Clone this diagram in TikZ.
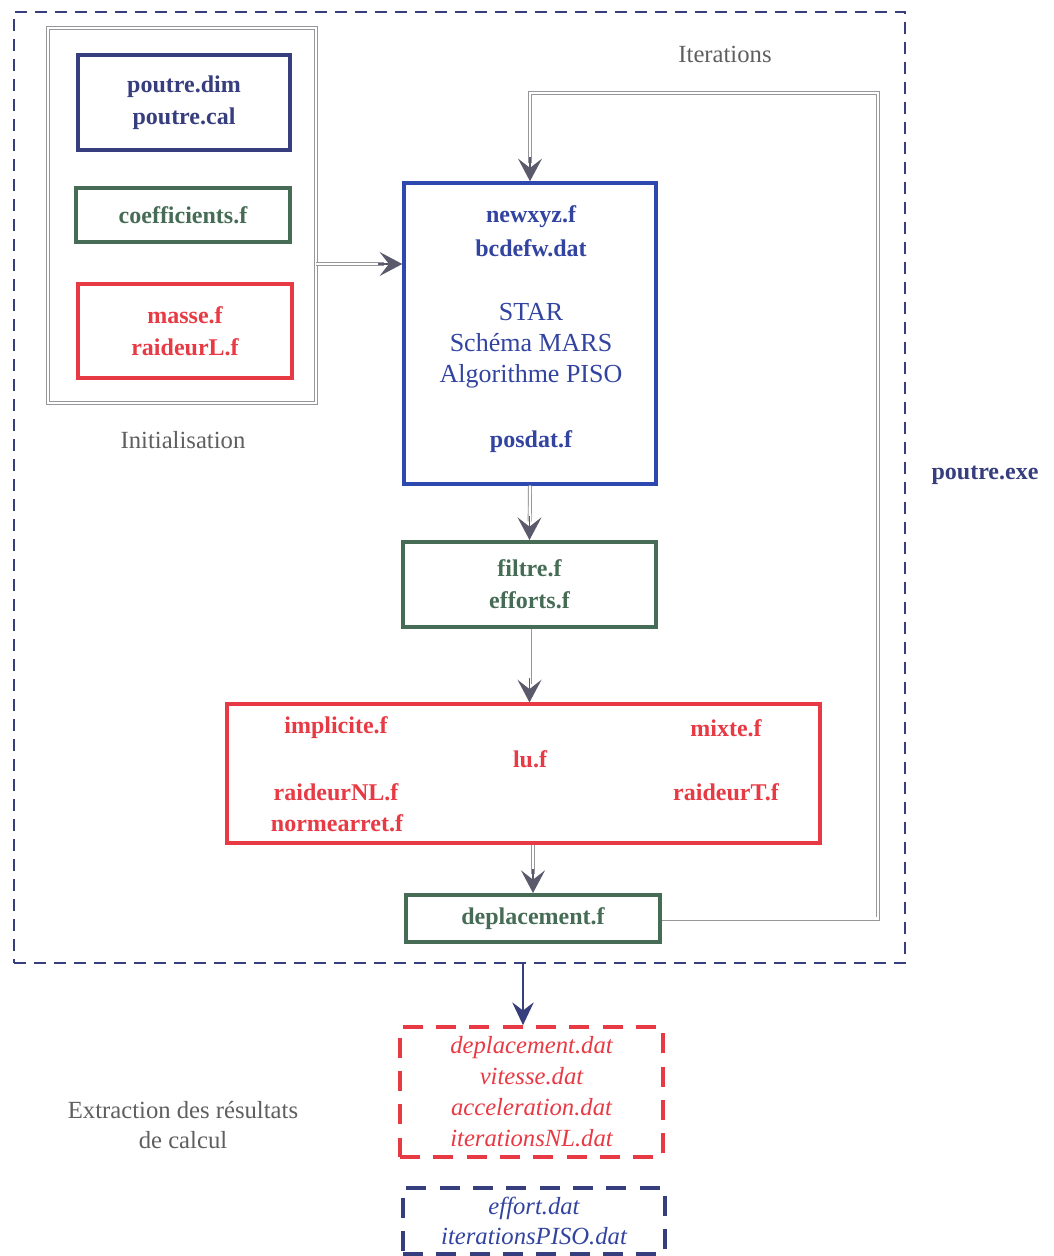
\documentclass[tikz,border=0pt]{standalone}
\usepackage{fontspec}
\setmainfont{Liberation Serif}
\usetikzlibrary{arrows.meta,calc}
\definecolor{navyc}{RGB}{55,62,125}
\definecolor{bluec}{RGB}{45,72,175}
\definecolor{bluetx}{RGB}{50,68,160}
\definecolor{greenc}{RGB}{70,108,85}
\definecolor{redc}{RGB}{232,58,68}
\definecolor{graytx}{RGB}{95,95,95}
\definecolor{lnc}{RGB}{150,150,155}
\definecolor{tipc}{RGB}{90,90,108}
\begin{document}
\begin{tikzpicture}[x=0.75pt,y=-0.75pt,
  box/.style={draw, rectangle, inner sep=0pt, align=center},
  fname/.style={font=\fontsize{18}{24}\selectfont\bfseries, align=center, inner sep=0pt},
  bigtx/.style={font=\fontsize{19.5}{24}\selectfont, align=center, inner sep=0pt, text=bluetx},
  ital/.style={font=\fontsize{18.5}{23.2}\selectfont\itshape, align=center, inner sep=0pt},
  graylab/.style={font=\fontsize{18.5}{23.2}\selectfont, text=graytx, align=center, inner sep=0pt},
  dbl/.style={draw=lnc, double=white, double distance=1.6pt, line width=0.7pt},
  tipar/.style={-{Stealth[length=17pt,width=18pt,inset=7pt]}, draw=tipc, fill=tipc, line width=1pt},
  ]
\useasboundingbox (0,0) rectangle (1053,1256);
\fill[white] (0,0) rectangle (1053,1256);

% outer dashed frame
\node[box, draw=navyc, line width=2pt, dash pattern=on 9pt off 6pt,
  minimum width=668.25pt, minimum height=713.25pt] (outer) at (459.5,487.5) {};

% initialisation group
\node[box, dbl, minimum width=201pt, minimum height=281.25pt] (init) at (182,215.5) {};
\node[box, draw=navyc, line width=3pt, minimum width=159pt, minimum height=71.25pt,
  fname, text=navyc] (pdim) at (184,102.5) {poutre.dim\\poutre.cal};
\node[box, draw=greenc, line width=3pt, minimum width=160.5pt, minimum height=40.5pt,
  fname, text=greenc] (coef) at (183,215) {coefficients.f};
\node[box, draw=redc, line width=2.4pt, minimum width=160.5pt, minimum height=70.5pt,
  fname, text=redc] (masse) at (185,331) {masse.f\\raideurL.f};
\node[graylab] (initlab) at (183,440) {Initialisation};

% STAR box
\node[box, draw=bluec, line width=2.6pt, minimum width=189pt, minimum height=225.75pt] (star) at (530,333.5) {};
\node[fname, text=bluetx] (newxyz) at (531,217) {newxyz.f};
\node[fname, text=bluetx] (bcdefw) at (531,248) {bcdefw.dat};
\node[bigtx] (starlab) at (531,312) {STAR};
\node[bigtx] (mars) at (531,343) {Schéma MARS};
\node[bigtx] (piso) at (531,376) {Algorithme PISO};
\node[fname, text=bluetx] (posdat) at (531,442) {posdat.f};

% filtre box
\node[box, draw=greenc, line width=3pt, minimum width=189.75pt, minimum height=63.75pt,
  fname, text=greenc] (filtre) at (529.5,584.5) {filtre.f\\efforts.f};

% red box
\node[box, draw=redc, line width=2.4pt, minimum width=444.75pt, minimum height=104.25pt] (redbox) at (523.5,773.5) {};
\node[fname, text=redc] (impl) at (336,728) {implicite.f};
\node[fname, text=redc] (mixte) at (726,728) {mixte.f};
\node[fname, text=redc] (lu) at (530,759) {lu.f};
\node[fname, text=redc] (rNL) at (336,792) {raideurNL.f};
\node[fname, text=redc] (rT) at (726,792) {raideurT.f};
\node[fname, text=redc] (norme) at (337,823) {normearret.f};

% deplacement box
\node[box, draw=greenc, line width=3pt, minimum width=190.5pt, minimum height=35.25pt,
  fname, text=greenc] (depl) at (533,918.5) {deplacement.f};

% labels
\node[graylab] (iterlab) at (725,54) {Iterations};
\node[fname, text=navyc] (exe) at (985,475) {poutre.exe};
\node[graylab] (extr) at (183,1125) {Extraction des résultats\\de calcul};

% output boxes
\node[box, draw=redc, line width=2.8pt, dash pattern=on 15pt off 10pt,
  minimum width=197.25pt, minimum height=97.5pt, ital, text=redc] (rdat) at (531.5,1092)
  {deplacement.dat\\vitesse.dat\\acceleration.dat\\iterationsNL.dat};
\node[box, draw=navyc, line width=2.8pt, dash pattern=on 15pt off 10pt,
  minimum width=196.5pt, minimum height=49.5pt, ital, text=bluetx] (bdat) at (534,1221)
  {effort.dat\\iterationsPISO.dat};

% connectors (double shafts + separate tips)
\draw[dbl, shorten >=14pt] (init.east |- 0,264) -- (star.west |- 0,264);
\draw[tipar] ($(star.west |- 0,264)+(-24,0)$) -- (star.west |- 0,264);

\draw[dbl, shorten >=14pt] (star.south) -- (filtre.north);
\draw[tipar] ($(filtre.north)+(0,-24)$) -- (filtre.north);

\draw[dbl, shorten >=14pt] (filtre.south) -- (redbox.north -| filtre.south);
\draw[tipar] ($(redbox.north -| filtre.south)+(0,-24)$) -- (redbox.north -| filtre.south);

\draw[dbl, shorten >=14pt] (redbox.south -| depl.north) -- (depl.north);
\draw[tipar] ($(depl.north)+(0,-24)$) -- (depl.north);

\coordinate (loopR) at (878,93);
\draw[dbl, shorten >=14pt] (depl.east) -| (loopR) -| (star.north);
\draw[tipar] ($(star.north)+(0,-24)$) -- (star.north);

% output arrow
\draw[-{Stealth[length=17pt,width=16pt,inset=6pt]}, draw=navyc, fill=navyc, line width=2.2pt]
  (outer.south -| 523,0) -- (rdat.north -| 523,0);
\end{tikzpicture}
\end{document}
